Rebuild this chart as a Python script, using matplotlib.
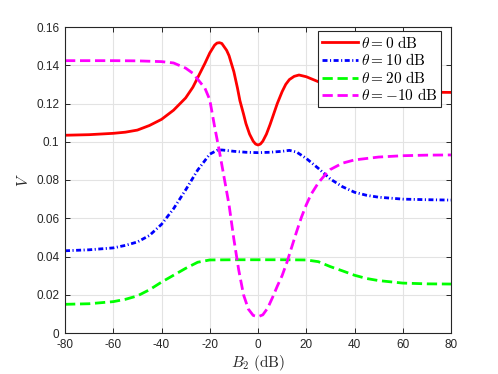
import matplotlib
matplotlib.use("Agg")
import matplotlib.pyplot as plt

plt.rcParams['mathtext.fontset'] = 'cm'
plt.rcParams['font.family'] = ['Liberation Sans', 'DejaVu Sans']

# theta = 0 dB
x_red = [-80, -70, -60, -55, -50, -45, -40, -35, -30, -27, -25, -22, -20, -18, -17, -16, -15, -13, -12, -10,
         -8.5, -7.5, -6, -5, -3.5, -2, -1, 0, 1, 2, 3.5, 5, 6.5, 8, 10, 11.5, 13, 15, 17, 20, 25, 30, 35, 40, 50, 60, 70, 80]
y_red = [0.1034, 0.1037, 0.1044, 0.1050, 0.1061, 0.1085, 0.1117, 0.1165, 0.1229, 0.1285, 0.1335, 0.1410, 0.1464, 0.1505,
         0.1516, 0.1518, 0.1514, 0.1478, 0.1450, 0.1366, 0.1280, 0.1215, 0.1145, 0.1095, 0.1040, 0.1003, 0.0988, 0.0983,
         0.0988, 0.1003, 0.1040, 0.1090, 0.1145, 0.1200, 0.1262, 0.1300, 0.1325, 0.1342, 0.1349, 0.1340, 0.1314, 0.1295,
         0.1283, 0.1275, 0.1266, 0.1261, 0.1259, 0.1258]

# theta = 10 dB
x_blue = [-80, -70, -60, -55, -50, -45, -40, -35, -30, -25, -20, -17, -15, -12, -10, -5, 0, 5, 10, 13, 16,
          20, 25, 30, 35, 40, 45, 50, 60, 70, 80]
y_blue = [0.0430, 0.0435, 0.0445, 0.0458, 0.0476, 0.0510, 0.0568, 0.0650, 0.0748, 0.0852, 0.0935, 0.0955, 0.0957,
          0.0953, 0.0950, 0.0945, 0.0943, 0.0945, 0.0950, 0.0955, 0.0946, 0.0913, 0.0861, 0.0805, 0.0765, 0.0736,
          0.0720, 0.0710, 0.0700, 0.0697, 0.0695]

# theta = 20 dB
x_green = [-80, -70, -60, -55, -50, -45, -40, -35, -30, -25, -20, -10, 0, 10, 20, 25, 30, 35, 40, 45, 50, 60, 70, 80]
y_green = [0.0150, 0.0153, 0.0164, 0.0176, 0.0194, 0.0226, 0.0266, 0.0302, 0.0338, 0.0370, 0.0382, 0.0383, 0.0383,
           0.0383, 0.0382, 0.0373, 0.0347, 0.0325, 0.0302, 0.0285, 0.0274, 0.0261, 0.0257, 0.0256]

# theta = -10 dB
x_mag = [-80, -60, -50, -40, -35, -30, -27, -25, -22, -20, -18, -16, -14, -12, -10, -8, -6, -4, -2, 0,
         2, 4, 6, 8, 10, 12, 14, 16, 18, 20, 22, 25, 28, 30, 35, 40, 50, 60, 70, 80]
y_mag = [0.1424, 0.1424, 0.1423, 0.1419, 0.1412, 0.1385, 0.1358, 0.1327, 0.1280, 0.1220, 0.1080, 0.0950, 0.0810,
         0.0670, 0.0490, 0.0330, 0.0200, 0.0125, 0.0092, 0.0085, 0.0095, 0.0130, 0.0185, 0.0245, 0.0300, 0.0370,
         0.0450, 0.0530, 0.0605, 0.0670, 0.0725, 0.0785, 0.0830, 0.0855, 0.0888, 0.0905, 0.0920, 0.0927, 0.0930, 0.0931]

labels = [r'$\theta = 0\ \mathrm{dB}$', r'$\theta = 10\ \mathrm{dB}$',
          r'$\theta = 20\ \mathrm{dB}$', r'$\theta = -10\ \mathrm{dB}$']
xticks = [-80, -60, -40, -20, 0, 20, 40, 60, 80]
yticks = [0, 0.02, 0.04, 0.06, 0.08, 0.1, 0.12, 0.14, 0.16]
ytick_labels = ['0', '0.02', '0.04', '0.06', '0.08', '0.1', '0.12', '0.14', '0.16']

fig = plt.figure(figsize=(4.98, 3.74), dpi=100)
ax = fig.add_axes([65/498, 1-333/374, (451-65)/498, (333-27)/374])

lw = 2.0
ax.plot(x_red, y_red, color='#ff0000', lw=lw, ls='-', label=labels[0])
ax.plot(x_blue, y_blue, color='#0000ff', lw=lw, ls=(0, (1.8, 0.9, 0.4, 0.9)), label=labels[1])
ax.plot(x_green, y_green, color='#00ff00', lw=lw, ls=(0, (3.7, 1.7)), label=labels[2])
ax.plot(x_mag, y_mag, color='#ff00ff', lw=lw, ls=(0, (3.7, 1.7)), label=labels[3])

ax.set_xlim(-80, 80)
ax.set_ylim(0, 0.16)
ax.set_xticks(xticks)
ax.set_xticklabels([str(t) for t in xticks])
ax.set_yticks(yticks)
ax.set_yticklabels(ytick_labels)
ax.grid(True, color='#e3e3e3', lw=0.8)
ax.set_axisbelow(True)
ax.tick_params(direction='in', length=3.5, width=0.7, colors='#262626', labelsize=8.5,
               top=True, right=True, pad=4)
for sp in ax.spines.values():
    sp.set_color('#262626')
    sp.set_linewidth(0.8)

ax.set_xlabel(r'$B_2\ (\mathrm{dB})$', fontsize=11, color='#262626', labelpad=2)
ax.set_ylabel(r'$V$', fontsize=11, color='#262626', labelpad=4)

leg = ax.legend(loc='upper right', bbox_to_anchor=((441-65)/386, (333-31)/306),
                fontsize=11, handlelength=2.4, handletextpad=0.15,
                borderpad=0.25, labelspacing=0.1, borderaxespad=0.0, fancybox=False,
                framealpha=1, edgecolor='#262626')
leg.get_frame().set_linewidth(0.8)

fig.savefig('out.png', dpi=100)
